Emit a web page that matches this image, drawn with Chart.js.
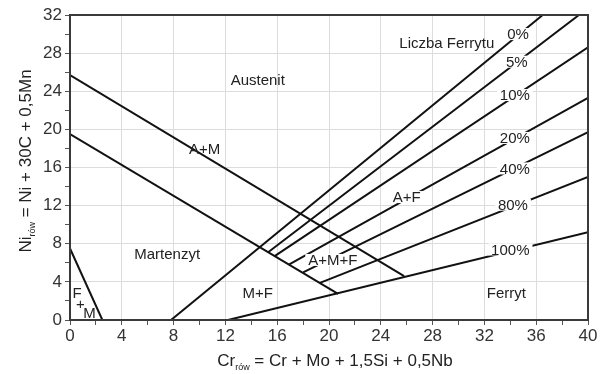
<!DOCTYPE html>
<html>
<head>
<meta charset="utf-8">
<script src="https://cdn.jsdelivr.net/npm/chart.js@4.4.1/dist/chart.umd.min.js"></script>
<style>
  html, body { margin: 0; padding: 0; background: #fff; }
  #wrap { width: 607px; height: 374px; }
</style>
</head>
<body>
<div id="wrap"><canvas id="chart"></canvas></div>
<script>
// Schaeffler diagram - phase boundaries (Cr equivalent on x, Ni equivalent on y)
const upperBoundCr = [0, 25.8];
const upperBoundNi = [25.7, 4.6];
const lowerBoundCr = [0, 20.7];
const lowerBoundNi = [19.5, 2.75];
const fmBoundCr = [0, 2.5];
const fmBoundNi = [7.5, 0];

// Ferrite number lines
const ferriteNames = ['0%', '5%', '10%', '20%', '40%', '80%', '100%'];
const ferriteCr = [[7.8, 36.5], [15.3, 39.3], [15.8, 40], [16.9, 40], [18.0, 40], [19.3, 40], [12.2, 40]];
const ferriteNi = [[0, 32], [7.1, 32], [6.7, 28.6], [5.8, 23.3], [5.0, 19.7], [3.9, 15.0], [0, 9.2]];

// Axis range / ticks
const crMax = 40;
const niMax = 32;
const majorStep = 4;

// Text annotations (data units)
const regionNames = ['Austenit', 'A+M', 'Martenzyt', 'A+F', 'A+M+F', 'M+F', 'Ferryt', 'F', '+', 'M', 'Liczba Ferrytu'];
const regionCr = [14.5, 10.4, 7.5, 26.0, 20.3, 14.5, 33.7, 0.55, 0.8, 1.5, 29.1];
const regionNi = [25.2, 18.0, 6.9, 12.9, 6.3, 2.9, 2.8, 2.9, 1.7, 0.75, 29.1];
const regionBoxed = [false, false, false, true, true, false, false, false, false, false, false];
const ferriteLabelCr = [34.6, 34.5, 34.35, 34.35, 34.35, 34.2, 34.0];
const ferriteLabelNi = [30.0, 27.1, 23.6, 19.1, 15.9, 12.1, 7.4];

const toPoints = (xs, ys) => xs.map((x, i) => ({ x, y: ys[i] }));

const lineStyle = {
  showLine: true,
  pointRadius: 0,
  borderColor: '#111',
  borderWidth: 2,
  fill: false
};

const datasets = [
  { label: 'A / A+M', data: toPoints(upperBoundCr, upperBoundNi), ...lineStyle },
  { label: 'A+M / M', data: toPoints(lowerBoundCr, lowerBoundNi), ...lineStyle },
  { label: 'F+M', data: toPoints(fmBoundCr, fmBoundNi), ...lineStyle }
];
ferriteNames.forEach((name, i) => {
  datasets.push({ label: name, data: toPoints(ferriteCr[i], ferriteNi[i]), ...lineStyle });
});

const FONT = '"Liberation Sans", Arial, sans-serif';

// Frame around the plot area
const framePlugin = {
  id: 'frame',
  afterDatasetsDraw(chart) {
    const { ctx, chartArea: a } = chart;
    ctx.save();
    ctx.strokeStyle = '#3a3a3a';
    ctx.lineWidth = 2;
    ctx.strokeRect(a.left, a.top, a.right - a.left, a.bottom - a.top);
    ctx.restore();
  }
};

// Region and ferrite-number labels
const labelPlugin = {
  id: 'labels',
  afterDatasetsDraw(chart) {
    const { ctx } = chart;
    const xs = chart.scales.x, ys = chart.scales.y;
    ctx.save();
    ctx.textAlign = 'center';
    ctx.textBaseline = 'middle';

    const drawLabel = (text, cx, cy, size, boxed) => {
      const px = xs.getPixelForValue(cx);
      const py = ys.getPixelForValue(cy);
      ctx.font = size + 'px ' + FONT;
      if (boxed) {
        const w = ctx.measureText(text).width;
        ctx.fillStyle = '#fff';
        ctx.fillRect(px - w / 2 - 3, py - 6, w + 6, 12);
      }
      ctx.fillStyle = '#222';
      ctx.fillText(text, px, py + 1);
    };

    regionNames.forEach((t, i) => drawLabel(t, regionCr[i], regionNi[i], 15, regionBoxed[i]));
    ferriteNames.forEach((t, i) => drawLabel(t, ferriteLabelCr[i], ferriteLabelNi[i], 15, true));
    ctx.restore();
  }
};

// Axis titles with subscripts
const titlePlugin = {
  id: 'axisTitles',
  afterDraw(chart) {
    const { ctx, chartArea: a } = chart;
    const drawTitle = (main, sub, rest) => {
      ctx.font = '17px ' + FONT;
      const w1 = ctx.measureText(main).width;
      const w3 = ctx.measureText(rest).width;
      ctx.font = '9px ' + FONT;
      const w2 = ctx.measureText(sub).width;
      const total = w1 + w2 + w3;
      let x = -total / 2;
      ctx.textAlign = 'left';
      ctx.textBaseline = 'alphabetic';
      ctx.fillStyle = '#222';
      ctx.font = '17px ' + FONT;
      ctx.fillText(main, x, 0);
      x += w1;
      ctx.font = '9px ' + FONT;
      ctx.fillText(sub, x, 4);
      x += w2;
      ctx.font = '17px ' + FONT;
      ctx.fillText(rest, x, 0);
    };

    ctx.save();
    ctx.translate(335, 366);
    drawTitle('Cr', 'rów', ' = Cr + Mo + 1,5Si + 0,5Nb');
    ctx.restore();

    ctx.save();
    ctx.translate(31, 161);
    ctx.rotate(-Math.PI / 2);
    drawTitle('Ni', 'rów', ' = Ni + 30C + 0,5Mn');
    ctx.restore();
  }
};

const gridColor = c => (c.tick && c.tick.value % majorStep === 0) ? '#dcdcdc' : 'rgba(0,0,0,0)';
const tickLabel = v => (v % majorStep === 0 ? v : '');

new Chart(document.getElementById('chart'), {
  type: 'scatter',
  data: { datasets },
  options: {
    responsive: true,
    maintainAspectRatio: false,
    animation: false,
    layout: { padding: { top: 15, right: 19, left: 0, bottom: 0 } },
    plugins: {
      legend: { display: false },
      tooltip: { enabled: false }
    },
    scales: {
      x: {
        type: 'linear',
        min: 0,
        max: crMax,
        afterFit: s => { s.height = 54; },
        ticks: {
          stepSize: 2,
          autoSkip: false,
          maxRotation: 0,
          padding: 1,
          color: '#333',
          font: { family: FONT, size: 17 },
          callback: tickLabel
        },
        grid: { color: gridColor, tickColor: '#555', tickLength: 5, lineWidth: 1 },
        border: { display: false }
      },
      y: {
        type: 'linear',
        min: 0,
        max: niMax,
        afterFit: s => { s.width = 70; },
        ticks: {
          stepSize: 2,
          autoSkip: false,
          padding: 3,
          color: '#333',
          font: { family: FONT, size: 17 },
          callback: tickLabel
        },
        grid: { color: gridColor, tickColor: '#555', tickLength: 5, lineWidth: 1 },
        border: { display: false }
      }
    }
  },
  plugins: [framePlugin, labelPlugin, titlePlugin]
});
</script>
</body>
</html>
